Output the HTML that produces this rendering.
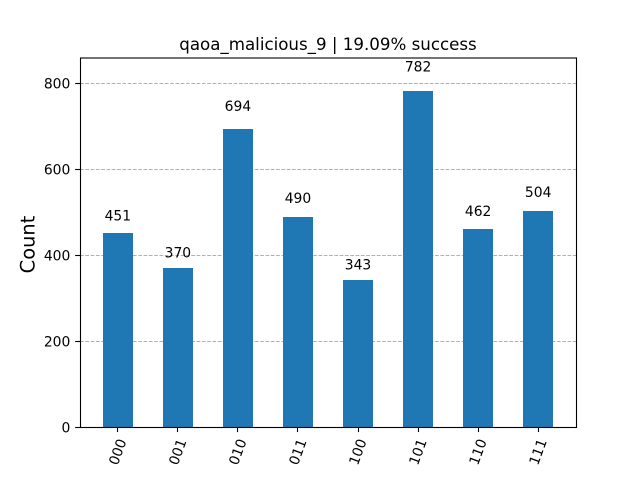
<!DOCTYPE html>
<html>
<head>
<meta charset="utf-8">
<title>qaoa_malicious_9</title>
<style>
html,body{margin:0;padding:0;background:#fff;width:640px;height:480px;overflow:hidden}
svg{display:block}
text{font-family:"DejaVu Sans",sans-serif;fill:#000}
</style>
</head>
<body>
<svg id="chart" xmlns="http://www.w3.org/2000/svg" width="640" height="480" viewBox="0 0 640 480">
<rect x="0" y="0" width="640" height="480" fill="#fff"/>
<g id="grid"></g>
<g id="bars"></g>
<g id="labels"></g>
<g id="ticks"></g>
<rect x="80.5" y="58" width="496" height="369.5" fill="none" stroke="#000" stroke-width="1.1"/>
<text x="328" y="50" font-size="16.67" text-anchor="middle">qaoa_malicious_9 | 19.09% success</text>
<text transform="translate(34.5,244.5) rotate(-90)" font-size="19.44" text-anchor="middle">Count</text>
</svg>
<script>
const categories = ["000","001","010","011","100","101","110","111"];
const seriesValues = [451,370,694,490,343,782,462,504];
const yTickValues = [0,200,400,600,800];

const NS = "http://www.w3.org/2000/svg";
const plotLeft = 80, plotRight = 576, plotTop = 57.6, plotBottom = 427.2;
const barWidthUnits = 0.5, xMargin = 0.13;
const yMax = Math.max.apply(null, seriesValues) * 1.1;
const xMin = -barWidthUnits - xMargin;
const xMax = categories.length - 1 + barWidthUnits + xMargin;

function xScale(i) {
  return plotLeft + (i - xMin) / (xMax - xMin) * (plotRight - plotLeft);
}
function yScale(v) {
  return plotBottom - v / yMax * (plotBottom - plotTop);
}
function snapLine(p) {
  return Math.floor(p) + 0.5;
}
function make(tag, attrs, parent, content) {
  const el = document.createElementNS(NS, tag);
  for (const k in attrs) el.setAttribute(k, attrs[k]);
  if (content !== undefined) el.textContent = content;
  parent.appendChild(el);
  return el;
}

const gridG = document.getElementById("grid");
const barsG = document.getElementById("bars");
const labelsG = document.getElementById("labels");
const ticksG = document.getElementById("ticks");

yTickValues.forEach(function (t) {
  const y = snapLine(yScale(t));
  if (t > 0) {
    const g = make("line", {x1: plotLeft, x2: plotRight, y1: y, y2: y, stroke: "#b0b0b0", "stroke-width": 1, "stroke-dasharray": "3.7 1.6"}, gridG);
    
    
  }
  const tick = make("line", {x1: plotLeft - 4.86, x2: plotLeft, y1: y, y2: y, stroke: "#000", "stroke-width": 1.1}, ticksG);
  
  
  const label = make("text", {x: plotLeft - 9.7, y: y + 5, "font-size": 13.89, "text-anchor": "end"}, ticksG, String(t));
  
  
});

categories.forEach(function (c, i) {
  const v = seriesValues[i];
  const cx = xScale(i);
  const unit = (plotRight - plotLeft) / (xMax - xMin);
  const w = barWidthUnits * unit;
  const left = Math.round(cx - w / 2);
  const right = Math.round(cx + w / 2);
  const top = Math.round(yScale(v));
  const bottom = Math.round(plotBottom);
  const bar = make("rect", {x: left, y: top, width: right - left, height: bottom - top, fill: "#1f77b4"}, barsG);
  
  

  const val = make("text", {x: cx, y: yScale(v * 1.05) - 3, "font-size": 13.89, "text-anchor": "middle"}, labelsG, String(v));
  
  

  const tx = snapLine(cx);
  const tick = make("line", {x1: tx, x2: tx, y1: plotBottom, y2: plotBottom + 4.86, stroke: "#000", "stroke-width": 1.1}, ticksG);
  
  

  const lab = make("text", {transform: "translate(" + (cx + 0.5) + "," + (plotBottom + 25) + ") rotate(-70)", "font-size": 13.89, "text-anchor": "middle", "dominant-baseline": "central"}, ticksG, c);
  
  
});
</script>
</body>
</html>
